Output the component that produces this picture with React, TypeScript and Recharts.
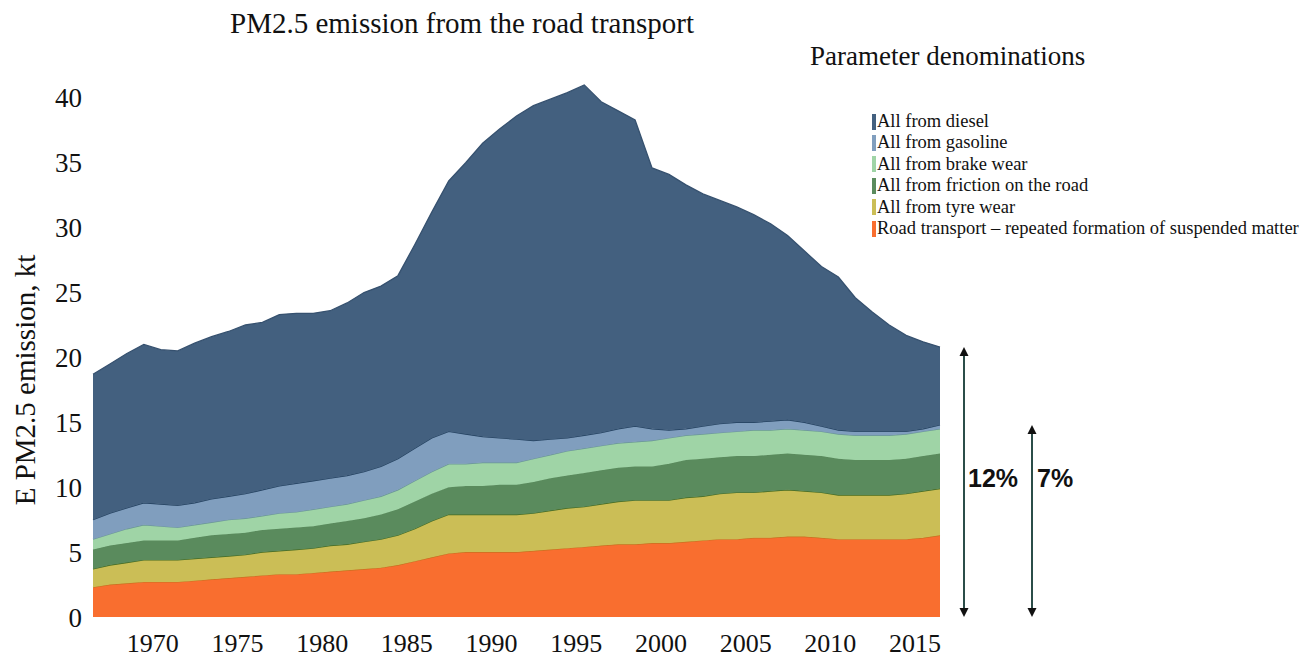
import React from "react";
import { AreaChart, Area, XAxis, YAxis } from "recharts";

const years = [
  1966, 1967, 1968, 1969, 1970, 1971, 1972, 1973, 1974, 1975, 1976, 1977, 1978,
  1979, 1980, 1981, 1982, 1983, 1984, 1985, 1986, 1987, 1988, 1989, 1990, 1991,
  1992, 1993, 1994, 1995, 1996, 1997, 1998, 1999, 2000, 2001, 2002, 2003, 2004,
  2005, 2006, 2007, 2008, 2009, 2010, 2011, 2012, 2013, 2014, 2015, 2016,
];

// kt per year (each layer on its own, not cumulative)
const roadResuspension = [
  2.3, 2.5, 2.6, 2.7, 2.7, 2.7, 2.8, 2.9, 3.0, 3.1, 3.2, 3.3, 3.3, 3.4, 3.5,
  3.6, 3.7, 3.8, 4.0, 4.3, 4.6, 4.9, 5.0, 5.0, 5.0, 5.0, 5.1, 5.2, 5.3, 5.4,
  5.5, 5.6, 5.6, 5.7, 5.7, 5.8, 5.9, 6.0, 6.0, 6.1, 6.1, 6.2, 6.2, 6.1, 6.0,
  6.0, 6.0, 6.0, 6.0, 6.1, 6.3,
];
const tyreWear = [
  1.4, 1.5, 1.6, 1.7, 1.7, 1.7, 1.7, 1.7, 1.7, 1.7, 1.8, 1.8, 1.9, 1.9, 2.0,
  2.0, 2.1, 2.2, 2.3, 2.5, 2.8, 3.0, 2.9, 2.9, 2.9, 2.9, 2.9, 3.0, 3.1, 3.1,
  3.2, 3.3, 3.4, 3.3, 3.3, 3.4, 3.4, 3.5, 3.6, 3.5, 3.6, 3.6, 3.5, 3.5, 3.4,
  3.4, 3.4, 3.4, 3.5, 3.6, 3.6,
];
const roadFriction = [
  1.5, 1.5, 1.5, 1.5, 1.5, 1.5, 1.6, 1.7, 1.7, 1.7, 1.7, 1.7, 1.7, 1.7, 1.7,
  1.8, 1.8, 1.9, 2.0, 2.1, 2.1, 2.1, 2.2, 2.2, 2.3, 2.3, 2.4, 2.5, 2.5, 2.6,
  2.6, 2.6, 2.6, 2.6, 2.8, 2.9, 2.9, 2.8, 2.8, 2.8, 2.8, 2.8, 2.8, 2.8, 2.8,
  2.7, 2.7, 2.7, 2.7, 2.7, 2.7,
];
const brakeWear = [
  0.8, 0.9, 1.1, 1.2, 1.1, 1.0, 1.0, 1.0, 1.1, 1.1, 1.1, 1.2, 1.2, 1.3, 1.3,
  1.3, 1.4, 1.4, 1.5, 1.6, 1.7, 1.8, 1.7, 1.8, 1.7, 1.7, 1.8, 1.8, 1.9, 1.9,
  1.9, 1.9, 1.9, 2.0, 2.0, 1.9, 1.9, 1.9, 1.9, 2.0, 1.9, 1.9, 1.9, 1.9, 1.9,
  1.9, 1.9, 1.9, 1.9, 1.9, 1.9,
];
const gasoline = [
  1.5, 1.6, 1.6, 1.7, 1.7, 1.7, 1.7, 1.8, 1.8, 1.9, 2.0, 2.1, 2.2, 2.2, 2.2,
  2.2, 2.2, 2.3, 2.4, 2.5, 2.6, 2.5, 2.3, 2.0, 1.9, 1.8, 1.4, 1.2, 1.0, 1.0,
  1.0, 1.1, 1.2, 0.9, 0.6, 0.5, 0.6, 0.7, 0.7, 0.6, 0.7, 0.7, 0.6, 0.4, 0.3,
  0.3, 0.3, 0.3, 0.2, 0.2, 0.3,
];
const diesel = [
  11.2, 11.5, 11.9, 12.2, 11.9, 11.9, 12.3, 12.5, 12.7, 13.0, 12.9, 13.2, 13.1,
  12.9, 12.9, 13.3, 13.8, 13.9, 14.1, 15.7, 17.4, 19.3, 20.9, 22.6, 23.8, 24.9,
  25.8, 26.2, 26.6, 27.0, 25.5, 24.5, 23.6, 20.1, 19.7, 18.8, 17.9, 17.2, 16.6,
  16.0, 15.2, 14.2, 13.2, 12.3, 11.8, 10.3, 9.2, 8.2, 7.4, 6.7, 6.0,
];

const yearTicks = [1970, 1975, 1980, 1985, 1990, 1995, 2000, 2005, 2010, 2015];
const valueTicks = [0, 5, 10, 15, 20, 25, 30, 35, 40];

// bottom to top, same order as the stack
const series = [
  { key: "road", name: "Road transport – repeated formation of suspended matter", values: roadResuspension, fill: "#f96e2f", stroke: "#c9701f" },
  { key: "tyre", name: "All from tyre wear", values: tyreWear, fill: "#cbbe56", stroke: "#476b20" },
  { key: "friction", name: "All from friction on the road", values: roadFriction, fill: "#5a8b5d", stroke: "#5a8b5d" },
  { key: "brake", name: "All from brake wear", values: brakeWear, fill: "#9fd4a6", stroke: "#6a9895" },
  { key: "gasoline", name: "All from gasoline", values: gasoline, fill: "#809ebe", stroke: "#22405f" },
  { key: "diesel", name: "All from diesel", values: diesel, fill: "#43607f", stroke: "#36516f" },
];

const data = years.map((year, i) => {
  const row: Record<string, number> = { year };
  series.forEach((s) => {
    row[s.key] = s.values[i];
  });
  return row;
});

const W = 1305;
const H = 659;
const PLOT_LEFT = 93;
const PLOT_RIGHT = 940;
const PLOT_TOP = 33;
const PLOT_BOTTOM = 617;
const Y_MAX = 45;
const SERIF = "'Liberation Serif', 'Times New Roman', serif";
const ARROW = "#2b4d49";

const yPos = (v: number) => PLOT_BOTTOM - (v / Y_MAX) * (PLOT_BOTTOM - PLOT_TOP);

const last = years.length - 1;
const lastTotal = series.reduce((acc, s) => acc + s.values[last], 0);
const lastWithoutDiesel = lastTotal - diesel[last];

function LegendBox() {
  return (
    <div
      style={{ position: "absolute", left: 872, top: 111, fontFamily: SERIF, fontSize: 18.5, color: "#111" }}
    >
      {[...series].reverse().map((s) => (
        <div
          key={s.key}
          style={{ height: 21.4, lineHeight: "21.4px", display: "flex", alignItems: "center", whiteSpace: "nowrap" }}
        >
          <span style={{ width: 3.5, height: 16, background: s.fill, marginRight: 1.5, display: "inline-block" }} />
          <span>{s.name}</span>
        </div>
      ))}
    </div>
  );
}

function Arrow({ x, top, label, labelX }: { x: number; top: number; label: string; labelX: number }) {
  const head = 9;
  return (
    <g>
      <line x1={x} y1={top + head - 1} x2={x} y2={PLOT_BOTTOM - head + 1} stroke={ARROW} strokeWidth={2} />
      <polygon points={`${x},${top} ${x - 4.5},${top + head} ${x + 4.5},${top + head}`} fill="#111" />
      <polygon
        points={`${x},${PLOT_BOTTOM} ${x - 4.5},${PLOT_BOTTOM - head} ${x + 4.5},${PLOT_BOTTOM - head}`}
        fill="#111"
      />
      <text
        x={labelX}
        y={487}
        fontFamily="'Liberation Sans', Arial, sans-serif"
        fontWeight="bold"
        fontSize={25}
        fill="#111"
      >
        {label}
      </text>
    </g>
  );
}

export default function App() {
  return (
    <div style={{ position: "absolute", left: 0, top: 0, width: W, height: H, background: "#fff", fontFamily: SERIF }}>
      <AreaChart
        width={W}
        height={H}
        data={data}
        margin={{ top: PLOT_TOP, right: W - PLOT_RIGHT, bottom: 0, left: 0 }}
      >
        <XAxis
          dataKey="year"
          type="number"
          domain={[years[0], years[last]]}
          ticks={yearTicks}
          interval={0}
          height={H - PLOT_BOTTOM}
          axisLine={false}
          tickLine={false}
          tickMargin={11}
          tick={{ fontSize: 26, fill: "#111", fontFamily: SERIF, dx: -8 }}
        />
        <YAxis
          domain={[0, Y_MAX]}
          ticks={valueTicks}
          width={PLOT_LEFT}
          axisLine={false}
          tickLine={false}
          tickMargin={5}
          tick={{ fontSize: 27, fill: "#111", fontFamily: SERIF }}
        />
        {series.map((s) => (
          <Area
            key={s.key}
            dataKey={s.key}
            name={s.name}
            stackId="pm"
            type="linear"
            fill={s.fill}
            fillOpacity={1}
            stroke={s.stroke}
            strokeWidth={1.3}
            isAnimationActive={false}
          />
        ))}
      </AreaChart>
      <LegendBox />
      <svg
        width={W}
        height={H}
        style={{ position: "absolute", left: 0, top: 0, pointerEvents: "none" }}
      >
        <text x={230} y={33} fontFamily={SERIF} fontSize={29} fill="#111">
          PM2.5 emission from the road transport
        </text>
        <text x={810} y={65} fontFamily={SERIF} fontSize={27} fill="#111">
          Parameter denominations
        </text>
        <text
          transform="rotate(-90)"
          x={-380}
          y={35}
          textAnchor="middle"
          fontFamily={SERIF}
          fontSize={29}
          fill="#111"
        >
          E PM2.5 emission, kt
        </text>
        <Arrow x={964} top={yPos(lastTotal)} label="12%" labelX={968} />
        <Arrow x={1032} top={yPos(lastWithoutDiesel)} label="7%" labelX={1037} />
      </svg>
    </div>
  );
}
